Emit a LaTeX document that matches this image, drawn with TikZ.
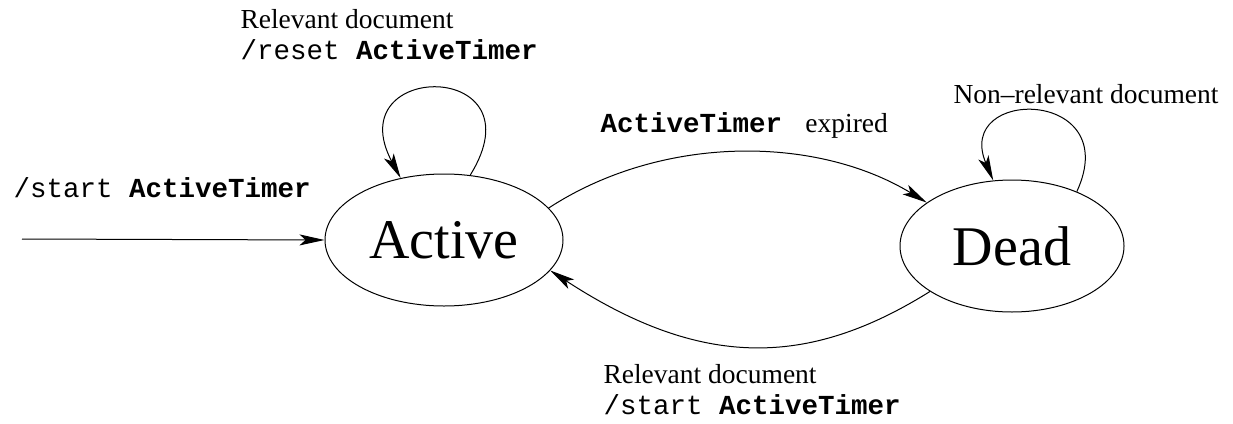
\documentclass[tikz,border=0pt]{standalone}
\usepackage{fontspec}
\setmainfont{Liberation Serif}
\setmonofont{Liberation Mono}
\usetikzlibrary{arrows.meta,shapes.geometric}

\begin{document}
\begin{tikzpicture}[>={Stealth[length=25pt,width=11pt,inset=6pt]}, x=1pt, y=-1pt, line width=1pt,
  state/.style={draw, ellipse, inner sep=0pt, minimum height=132pt, font=\fontsize{56}{60}\selectfont},
  lbl/.style={inner sep=0pt, align=left, font=\fontsize{27.5}{31}\selectfont}]
  \useasboundingbox (0,0) rectangle (1233,423);
  % states
  \node[state, minimum width=238pt] (active) at (444,240) {Active};
  \node[state, minimum width=224pt] (dead) at (1012,246) {Dead};
  % labels
  \node[lbl, anchor=north west] (lblreset) at (240,9) {Relevant document\\\texttt{/reset \textbf{ActiveTimer}}};
  \node[lbl, anchor=base west] (lblstart) at (13,197) {\texttt{/start \textbf{ActiveTimer}}};
  \node[lbl, anchor=base west] (lblexpired) at (600,132) {\texttt{\textbf{ActiveTimer}\ }\ expired};
  \node[lbl, anchor=base west] (lblnonrel) at (953,103) {Non--relevant document};
  \node[lbl, anchor=north west] (lblrevive) at (603,364) {Relevant document\\\texttt{/start \textbf{ActiveTimer}}};
  % initial arrow
  \coordinate (init) at (22,239);
  \draw[->] (init) -- (active.west);
  % self loops
  \draw[->] (active.68) .. controls +(72,-116) and +(-63,-118) .. (active.125);
  \draw[->] (dead.40) .. controls +(48,-104) and +(-40,-94) .. (dead.106);
  % transitions
  \draw[->] (active.17) .. controls +(112,-73) and +(-112,-68) .. (dead.153);
  \draw[->] (dead.209) .. controls +(-123,77) and +(150,98) .. (active.344);
\end{tikzpicture}
\end{document}
